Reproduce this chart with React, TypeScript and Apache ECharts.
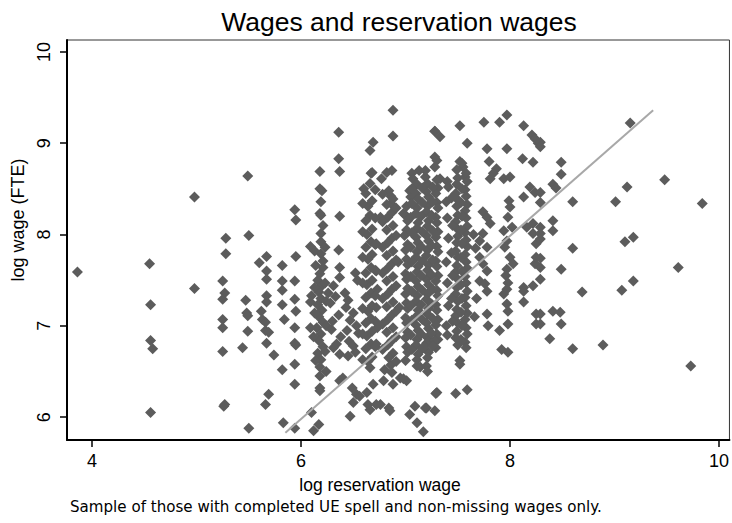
import React, { useEffect, useRef } from "react";
import * as echarts from "echarts";

const titleText = "Wages and reservation wages";
const xTitle = "log reservation wage";
const yTitle = "log wage (FTE)";
const noteText = "Sample of those with completed UE spell and non-missing wages only.";

const xTicks = [4, 6, 8, 10];
const yTicks = [6, 7, 8, 9, 10];

// fitted line end points [x, y]
const fitLine = [
  [5.85, 5.83],
  [9.37, 9.36],
];

const leftSparse = [
  [3.86, 7.59], [4.55, 7.68], [4.56, 7.23], [4.56, 6.84], [4.58, 6.75], [4.56, 6.05],
  [4.98, 8.41], [4.98, 7.41], [5.49, 8.64], [5.5, 7.99], [5.28, 7.96], [5.28, 7.79],
  [5.25, 7.49], [5.27, 7.36], [5.25, 7.29], [5.25, 7.07], [5.25, 6.98], [5.25, 6.72],
  [5.27, 6.14], [5.26, 6.12], [5.47, 7.28], [5.48, 7.14], [5.49, 7.11], [5.49, 6.94],
  [5.44, 6.76], [5.5, 5.88], [5.6, 7.69], [5.67, 7.76], [5.67, 7.6], [5.67, 7.51],
  [5.67, 7.33], [5.67, 7.26], [5.62, 7.16], [5.63, 7.07], [5.66, 7.04], [5.66, 6.95],
  [5.69, 6.93], [5.67, 6.81], [5.74, 6.68], [5.69, 6.25], [5.66, 6.14], [5.82, 7.66],
  [5.82, 7.49], [5.82, 7.39], [5.82, 7.23], [5.84, 7.07], [5.82, 6.52], [5.83, 5.94],
  [5.94, 8.27], [5.95, 8.16], [5.95, 7.76], [5.94, 7.49], [5.94, 7.29], [5.95, 7.16],
  [5.94, 6.98], [5.94, 6.81], [5.95, 6.79], [5.94, 6.58], [5.94, 6.36], [5.94, 5.88],
];

const col62 = [
  [6.18, 8.69], [6.18, 8.5], [6.2, 8.48], [6.19, 8.36], [6.18, 8.23], [6.19, 8.21],
  [6.21, 8.1], [6.19, 8.01], [6.19, 7.92], [6.09, 7.87], [6.13, 7.82], [6.19, 7.79],
  [6.21, 7.71], [6.21, 7.64], [6.18, 7.57], [6.16, 7.5], [6.2, 7.44], [6.17, 7.37],
  [6.1, 7.33], [6.19, 7.3], [6.16, 7.23], [6.09, 7.26], [6.2, 7.17], [6.17, 7.1],
  [6.21, 7.04], [6.15, 6.98], [6.09, 6.98], [6.19, 6.91], [6.17, 6.84], [6.21, 6.77],
  [6.16, 6.7], [6.19, 6.63], [6.18, 6.55], [6.18, 6.45], [6.18, 6.32], [6.18, 6.29],
  [6.1, 6.05], [6.12, 5.85], [6.17, 5.92],
  [6.23, 7.86], [6.14, 7.66], [6.23, 7.47], [6.13, 7.42], [6.24, 7.27], [6.13, 7.14],
  [6.24, 7.0], [6.12, 6.88], [6.23, 6.72], [6.14, 6.62], [6.24, 6.5],
];

const col64 = [
  [6.36, 9.12], [6.36, 8.83], [6.37, 8.69], [6.37, 8.2], [6.36, 7.83], [6.37, 7.64],
  [6.37, 7.53], [6.31, 7.44], [6.26, 7.36], [6.33, 7.32], [6.42, 7.36], [6.45, 7.28],
  [6.43, 7.2], [6.5, 7.14], [6.47, 7.06], [6.53, 7.0], [6.44, 6.95], [6.55, 6.92],
  [6.29, 6.96], [6.52, 7.58], [6.54, 7.5], [6.31, 6.76], [6.37, 6.69], [6.45, 6.67],
  [6.52, 6.71], [6.37, 6.4], [6.4, 6.43], [6.49, 6.32], [6.53, 6.25], [6.28, 7.25],
  [6.36, 7.12], [6.3, 7.05], [6.38, 6.88], [6.46, 6.83], [6.34, 6.8], [6.5, 6.78],
];

const col67 = [
  [6.69, 9.01], [6.66, 8.92], [6.68, 8.68], [6.67, 8.67], [6.6, 8.5], [6.77, 8.61],
  [6.82, 8.68], [6.87, 8.7], [6.86, 8.42], [6.86, 8.34], [6.76, 8.19], [6.88, 9.36],
  [6.88, 9.08],
  [6.66, 8.56], [6.62, 8.45], [6.68, 8.37], [6.64, 8.31], [6.66, 8.21], [6.62, 8.15],
  [6.68, 8.06], [6.63, 8.0], [6.67, 7.92], [6.62, 7.86], [6.68, 7.78], [6.64, 7.73],
  [6.67, 7.64], [6.62, 7.58], [6.68, 7.5], [6.63, 7.45], [6.67, 7.36], [6.62, 7.31],
  [6.68, 7.22], [6.64, 7.16], [6.67, 7.08], [6.62, 7.03], [6.68, 6.94], [6.63, 6.89],
  [6.67, 6.8], [6.62, 6.75], [6.68, 6.66], [6.64, 6.61], [6.66, 6.54],
  [6.72, 7.9], [6.72, 7.6], [6.73, 7.4], [6.72, 7.2], [6.73, 6.98], [6.72, 6.8],
  [6.71, 8.49], [6.59, 8.34], [6.71, 8.18], [6.59, 8.03], [6.71, 7.89], [6.59, 7.75],
  [6.71, 7.61], [6.59, 7.47], [6.71, 7.33], [6.59, 7.19], [6.71, 7.05], [6.59, 6.91],
  [6.71, 6.77], [6.59, 6.63],
];

const col68 = [
  [6.84, 8.48], [6.88, 8.39], [6.82, 8.33], [6.87, 8.24], [6.83, 8.19], [6.88, 8.1],
  [6.82, 8.05], [6.87, 7.96], [6.83, 7.91], [6.88, 7.82], [6.82, 7.77], [6.87, 7.68],
  [6.83, 7.63], [6.88, 7.54], [6.82, 7.49], [6.87, 7.4], [6.83, 7.35], [6.88, 7.26],
  [6.82, 7.21], [6.87, 7.12], [6.83, 7.07], [6.88, 6.98], [6.82, 6.93], [6.87, 6.84],
  [6.83, 6.79], [6.88, 6.7], [6.84, 6.65], [6.86, 6.57], [6.93, 7.7], [6.94, 7.2],
  [6.78, 8.44], [6.91, 8.29], [6.78, 8.14], [6.91, 7.99], [6.78, 7.86], [6.91, 7.72],
  [6.78, 7.58], [6.91, 7.44], [6.78, 7.3], [6.91, 7.16], [6.78, 7.02], [6.91, 6.88],
  [6.78, 6.74], [6.91, 6.61],
];

const col72 = [
  [7.06, 8.67], [7.19, 8.63], [7.07, 8.61], [7.04, 8.48], [7.05, 8.41], [7.13, 8.7],
  [7.28, 8.85], [7.3, 8.81], [7.28, 8.74], [7.19, 8.7], [7.28, 9.13], [7.33, 9.07],
  [7.33, 8.61], [6.98, 8.23],
  [7.01, 8.31], [7.0, 8.21], [7.02, 8.15], [7.01, 8.05], [6.99, 7.99], [7.02, 7.89],
  [7.0, 7.83], [7.01, 7.73], [7.02, 7.67], [7.0, 7.57], [7.01, 7.51], [7.02, 7.41],
  [7.0, 7.35], [7.01, 7.25], [7.02, 7.19], [7.0, 7.09], [7.01, 7.03], [7.02, 6.93],
  [7.0, 6.87], [7.01, 6.77], [7.02, 6.71], [7.0, 6.62],
  [7.11, 8.55], [7.1, 8.45], [7.12, 8.39], [7.11, 8.29], [7.1, 8.23], [7.12, 8.13],
  [7.11, 8.07], [7.1, 7.97], [7.12, 7.91], [7.11, 7.81], [7.1, 7.75], [7.12, 7.65],
  [7.11, 7.59], [7.1, 7.49], [7.12, 7.43], [7.11, 7.33], [7.1, 7.27], [7.12, 7.17],
  [7.11, 7.11], [7.1, 7.01], [7.12, 6.95], [7.11, 6.85], [7.1, 6.79], [7.12, 6.69],
  [7.11, 6.63], [7.11, 6.56],
  [7.21, 8.56], [7.2, 8.47], [7.22, 8.41], [7.21, 8.31], [7.2, 8.25], [7.22, 8.15],
  [7.21, 8.09], [7.2, 7.99], [7.22, 7.93], [7.21, 7.83], [7.2, 7.77], [7.22, 7.67],
  [7.21, 7.61], [7.2, 7.51], [7.22, 7.45], [7.21, 7.35], [7.2, 7.29], [7.22, 7.19],
  [7.21, 7.13], [7.2, 7.03], [7.22, 6.97], [7.21, 6.87], [7.2, 6.81], [7.22, 6.71],
  [7.21, 6.65], [7.2, 6.56], [7.21, 6.5],
  [7.3, 8.6], [7.31, 8.51], [7.29, 8.45], [7.3, 8.35], [7.31, 8.29], [7.29, 8.19],
  [7.3, 8.13], [7.31, 8.03], [7.29, 7.97], [7.3, 7.87], [7.31, 7.81], [7.29, 7.71],
  [7.3, 7.65], [7.31, 7.55], [7.29, 7.49], [7.3, 7.39], [7.31, 7.33], [7.29, 7.23],
  [7.3, 7.17], [7.31, 7.07], [7.29, 7.01], [7.3, 6.91], [7.31, 6.85], [7.29, 6.76],
  [7.4, 8.58], [7.41, 8.52], [7.39, 8.36], [7.4, 8.18], [7.41, 7.96], [7.39, 7.7],
  [7.4, 7.47], [7.41, 7.22], [7.39, 7.0], [7.4, 6.9],
  [7.23, 6.84], [7.28, 6.84], [7.14, 6.55], [7.17, 6.76],
  [7.06, 8.5], [7.06, 8.34], [7.05, 8.19], [7.06, 8.02], [7.05, 7.86], [7.06, 7.7],
  [7.05, 7.54], [7.06, 7.38], [7.05, 7.22], [7.06, 7.06], [7.05, 6.9], [7.06, 6.74],
  [7.16, 8.51], [7.16, 8.35], [7.15, 8.2], [7.16, 8.03], [7.15, 7.87], [7.16, 7.71],
  [7.15, 7.55], [7.16, 7.39], [7.15, 7.23], [7.16, 7.07], [7.15, 6.91], [7.16, 6.75],
  [7.26, 8.52], [7.26, 8.36], [7.25, 8.21], [7.26, 8.04], [7.25, 7.88], [7.26, 7.72],
  [7.25, 7.56], [7.26, 7.4], [7.25, 7.24], [7.26, 7.08], [7.25, 6.92], [7.26, 6.78],
];

const col75 = [
  [7.52, 9.19], [7.59, 9.0], [7.52, 8.8], [7.55, 8.74], [7.57, 8.63], [7.54, 8.78],
  [7.49, 8.71], [7.5, 8.62], [7.49, 8.55], [7.48, 8.45], [7.5, 8.38], [7.49, 8.31],
  [7.5, 8.21], [7.48, 8.14], [7.49, 8.07], [7.5, 7.98], [7.49, 7.91], [7.48, 7.82],
  [7.5, 7.75], [7.49, 7.66], [7.48, 7.59], [7.5, 7.51], [7.49, 7.42], [7.48, 7.35],
  [7.5, 7.27], [7.49, 7.18], [7.48, 7.11], [7.5, 7.03], [7.49, 6.94], [7.48, 6.87],
  [7.5, 6.79],
  [7.58, 8.67], [7.59, 8.58], [7.57, 8.49], [7.58, 8.42], [7.59, 8.33], [7.57, 8.26],
  [7.58, 8.18], [7.59, 8.09], [7.57, 8.02], [7.58, 7.94], [7.59, 7.87], [7.57, 7.78],
  [7.58, 7.7], [7.59, 7.63], [7.57, 7.54], [7.58, 7.47], [7.59, 7.38], [7.57, 7.31],
  [7.58, 7.22], [7.59, 7.14], [7.57, 7.07], [7.58, 6.98], [7.59, 6.91], [7.57, 6.82],
  [7.58, 6.76], [7.52, 6.62], [7.52, 6.58],
  [7.54, 8.5], [7.53, 8.35], [7.54, 8.2], [7.53, 8.05], [7.54, 7.9], [7.53, 7.75],
  [7.54, 7.6], [7.53, 7.45], [7.54, 7.3], [7.53, 7.15], [7.54, 7.0], [7.53, 6.85],
  [7.44, 8.4], [7.45, 8.1], [7.44, 7.8], [7.45, 7.55], [7.44, 7.3], [7.45, 7.05],
];

const col80 = [
  [7.75, 9.23], [7.9, 9.23], [7.97, 9.31], [8.13, 9.19], [8.21, 9.09], [8.24, 9.05],
  [8.27, 9.0], [7.78, 8.94], [7.97, 8.94], [8.12, 8.83], [8.22, 8.79], [7.8, 8.8],
  [7.87, 8.72], [7.84, 8.67], [7.81, 8.61], [7.94, 8.61], [8.0, 8.63], [8.19, 8.52],
  [8.24, 8.46], [8.13, 8.41], [7.99, 8.37], [8.0, 8.3], [7.74, 8.25], [7.78, 8.19],
  [7.81, 8.12], [7.98, 8.19], [8.02, 8.08], [7.94, 8.04], [8.16, 8.08], [8.22, 8.12],
  [7.74, 8.01], [7.71, 7.93], [7.78, 7.86], [7.97, 7.93], [7.95, 7.86], [8.0, 7.75],
  [8.03, 7.68], [8.22, 8.01], [8.25, 7.9], [8.24, 7.68], [8.29, 8.01], [8.25, 7.75],
  [7.71, 7.75], [7.74, 7.68], [7.78, 7.6], [7.71, 7.49], [7.76, 7.46], [7.78, 7.38],
  [8.13, 7.42], [8.13, 7.38], [8.13, 7.26], [8.22, 7.44], [8.25, 7.13], [8.25, 7.02],
  [7.97, 7.62], [7.96, 7.55], [7.98, 7.47], [7.97, 7.4], [7.94, 7.35], [7.97, 7.24],
  [7.98, 7.16], [7.98, 7.02], [7.78, 7.13], [7.79, 7.0], [7.9, 6.95], [7.92, 6.74],
  [7.98, 6.71], [7.67, 7.85], [7.65, 8.0], [7.68, 7.3], [7.66, 7.1], [8.29, 9.01],
  [8.29, 8.96], [8.29, 8.46], [8.29, 8.35], [8.29, 8.08], [8.29, 7.95], [8.29, 7.74],
  [8.29, 7.64], [8.29, 7.51], [8.29, 7.13], [8.29, 7.02], [7.28, 9.13],
];

const rightSparse = [
  [9.15, 9.22], [8.49, 8.79], [8.49, 8.66], [8.41, 8.55], [8.44, 8.51], [8.6, 8.36],
  [9.01, 8.36], [9.12, 8.52], [9.48, 8.6], [9.84, 8.34], [8.41, 8.15], [8.41, 8.04],
  [8.6, 7.85], [9.1, 7.92], [9.18, 7.97], [8.49, 7.62], [9.61, 7.64], [9.18, 7.49],
  [9.07, 7.39], [8.69, 7.37], [8.41, 7.16], [8.48, 7.15], [8.49, 7.02], [8.38, 6.86],
  [8.6, 6.75], [8.89, 6.79], [9.73, 6.56],
];

const lowCloud = [
  [6.47, 6.01], [6.5, 6.16], [6.56, 6.23], [6.63, 6.27], [6.64, 6.14], [6.66, 6.08],
  [6.76, 6.14], [6.84, 6.1], [6.69, 6.36], [6.79, 6.4], [6.88, 6.36], [6.8, 6.52],
  [6.87, 6.49], [6.95, 6.43], [7.01, 6.4], [7.04, 6.03], [7.11, 5.94], [7.09, 6.12],
  [7.2, 6.1], [6.72, 6.14], [6.85, 6.07], [6.98, 6.42], [7.3, 6.27], [7.48, 6.26],
  [7.59, 6.3], [7.29, 6.26], [7.19, 6.1], [7.28, 6.07], [7.17, 5.84],
];

const allPoints = [
  ...leftSparse, ...col62, ...col64, ...col67, ...col68, ...col72, ...col75, ...col80,
  ...rightSparse, ...lowCloud,
];

const FONT = "'Liberation Sans', Arial, sans-serif";

export default function App() {
  const ref = useRef<HTMLDivElement>(null);
  useEffect(() => {
    if (!ref.current) return;
    const chart = echarts.init(ref.current, null, { renderer: "svg" });
    chart.setOption({
      animation: false,
      backgroundColor: "#ffffff",
      title: {
        text: titleText,
        left: 394,
        top: 3,
        textAlign: "center",
        textStyle: { fontFamily: FONT, fontSize: 26.5, fontWeight: "normal", color: "#000" },
      },
      grid: {
        left: 67,
        right: 2,
        top: 40,
        bottom: 83,
        show: true,
        borderColor: "#333",
        borderWidth: 1,
        backgroundColor: "#fff",
      },
      xAxis: {
        type: "value",
        min: 3.76,
        max: 10.1,
        splitLine: { show: false },
        axisLine: { show: true, onZero: false, lineStyle: { color: "#000", width: 2 } },
        axisTick: { show: true, length: 7, customValues: xTicks, lineStyle: { color: "#000", width: 1.5 } },
        axisLabel: {
          customValues: xTicks,
          fontFamily: FONT,
          fontSize: 18,
          color: "#000",
          margin: 12,
        },
      },
      yAxis: {
        type: "value",
        min: 5.75,
        max: 10.13,
        splitLine: { show: false },
        axisLine: { show: true, onZero: false, lineStyle: { color: "#000", width: 2 } },
        axisTick: { show: true, length: 7, customValues: yTicks, lineStyle: { color: "#000", width: 1.5 } },
        axisLabel: {
          customValues: yTicks,
          rotate: 90,
          fontFamily: FONT,
          fontSize: 18,
          color: "#000",
          margin: 14,
        },
      },
      graphic: [
        {
          type: "text",
          x: 380,
          y: 485,
          style: {
            text: xTitle,
            fontFamily: FONT,
            fontSize: 17.5,
            fill: "#000",
            align: "center",
            verticalAlign: "middle",
          },
        },
        {
          type: "text",
          x: 18,
          y: 220,
          rotation: Math.PI / 2,
          style: {
            text: yTitle,
            fontFamily: FONT,
            fontSize: 18,
            fill: "#000",
            align: "center",
            verticalAlign: "middle",
          },
        },
        {
          type: "text",
          x: 70,
          y: 507,
          style: {
            text: noteText,
            fontFamily: "'DejaVu Sans', sans-serif",
            fontSize: 15.1,
            fill: "#000",
            align: "left",
            verticalAlign: "middle",
          },
        },
      ],
      series: [
        {
          type: "scatter",
          data: allPoints,
          symbol: "diamond",
          symbolSize: 11,
          itemStyle: { color: "#5c5c5c", opacity: 1 },
          z: 2,
        },
        {
          type: "line",
          data: fitLine,
          symbol: "none",
          lineStyle: { color: "#a8a8a8", width: 2 },
          z: 3,
        },
      ],
    });
    return () => chart.dispose();
  }, []);
  return (
    <div
      ref={ref}
      style={{ position: "fixed", left: 0, top: 0, width: 732, height: 523 }}
    />
  );
}
